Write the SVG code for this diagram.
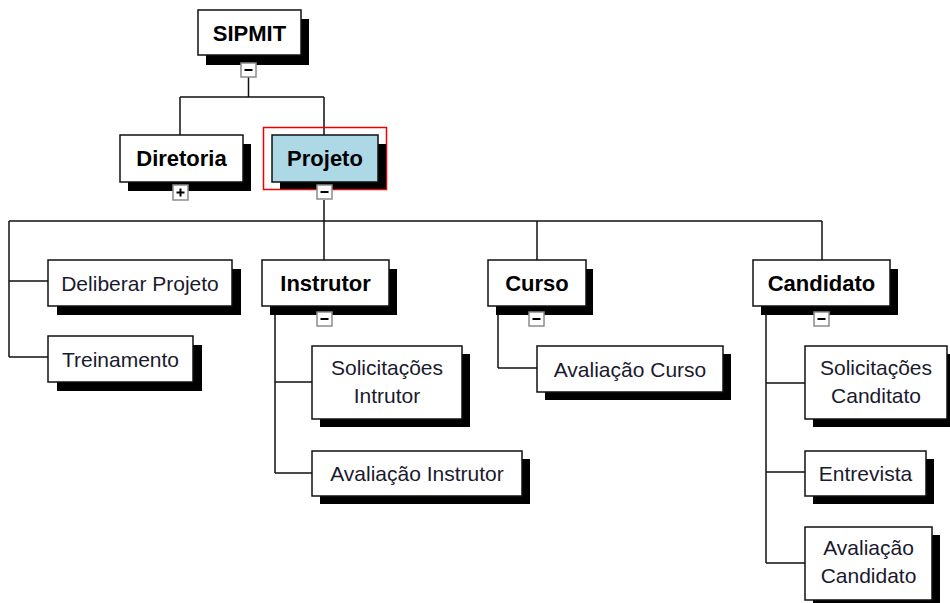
<svg xmlns="http://www.w3.org/2000/svg" width="950" height="603" viewBox="0 0 950 603">
<defs>
<style>
.box{fill:#fff;stroke:#111;stroke-width:1.5}
.sel{fill:#add8e6;stroke:#111;stroke-width:1.5}
.sh{fill:#000}
.t{font-family:"Liberation Sans",Arial,sans-serif;font-size:21px;fill:#1a1a2e;text-anchor:middle}
.b{font-family:"Liberation Sans",Arial,sans-serif;font-size:22px;font-weight:bold;fill:#000;text-anchor:middle}
.c{fill:none;stroke:#111;stroke-width:1.5}
.btn{fill:#fff;stroke:#8c8c8c;stroke-width:1.5}
.sign{stroke:#000;stroke-width:2}
</style>
</defs>
<rect width="950" height="603" fill="#fff"/>
<g id="connectors" class="c">
<path d="M248.5 77V97M180 97H324M180 97V135M324 97V135"/>
<path d="M324 200V221M9 221H822M9 221V357M324 221V260M537 221V260M822 221V260"/>
<path d="M9 281H48M9 357H48"/>
<path d="M275 306V473M275 382H312M275 473H312"/>
<path d="M498 306V368M498 368H537"/>
<path d="M766 306V563M766 383H805M766 472H805M766 563H805"/>
</g>
<g id="n-sipmit">
<rect class="sh" x="206" y="19" width="103" height="46"/>
<rect class="box" x="198" y="10" width="103" height="45"/>
<text class="b" x="249.5" y="41" font-size="20">SIPMIT</text>
<rect class="btn" x="241" y="63" width="15" height="14"/>
<line class="sign" x1="244.5" y1="70" x2="252.5" y2="70"/>
</g>
<g id="n-diretoria">
<rect class="sh" x="128" y="144" width="123" height="47"/>
<rect class="box" x="120" y="135" width="123" height="47"/>
<text class="b" x="181.5" y="166">Diretoria</text>
<rect class="btn" x="173" y="185" width="15" height="15"/>
<line class="sign" x1="176.5" y1="192.5" x2="184.5" y2="192.5"/>
<line class="sign" x1="180.5" y1="188.5" x2="180.5" y2="196.5"/>
</g>
<g id="n-projeto">
<rect x="263.5" y="127.5" width="123" height="62" fill="none" stroke="#e00" stroke-width="1.5"/>
<rect class="sh" x="280" y="144" width="106" height="45"/>
<rect class="sel" x="272" y="135" width="106" height="47"/>
<text class="b" x="325" y="166">Projeto</text>
<rect class="btn" x="317" y="185" width="15" height="14"/>
<line class="sign" x1="320.5" y1="192" x2="328.5" y2="192"/>
</g>
<g id="n-deliberar">
<rect class="sh" x="57" y="269" width="184" height="46"/>
<rect class="box" x="48" y="260" width="184" height="46"/>
<text class="t" x="140" y="290.5">Deliberar Projeto</text>
</g>
<g id="n-treinamento">
<rect class="sh" x="57" y="345" width="145" height="46"/>
<rect class="box" x="48" y="336" width="145" height="46"/>
<text class="t" x="120.5" y="366.5">Treinamento</text>
</g>
<g id="n-instrutor">
<rect class="sh" x="270" y="269" width="127" height="46"/>
<rect class="box" x="262" y="260" width="127" height="46"/>
<text class="b" x="325.5" y="291">Instrutor</text>
<rect class="btn" x="317" y="312" width="15" height="14"/>
<line class="sign" x1="320.5" y1="319" x2="328.5" y2="319"/>
</g>
<g id="n-sol-instrutor">
<rect class="sh" x="320" y="354" width="150" height="73"/>
<rect class="box" x="312" y="346" width="150" height="73"/>
<text class="t" x="387" y="375">Solicitações</text>
<text class="t" x="387" y="403">Intrutor</text>
</g>
<g id="n-aval-instrutor">
<rect class="sh" x="320" y="459" width="210" height="45"/>
<rect class="box" x="312" y="451" width="210" height="45"/>
<text class="t" x="417" y="481">Avaliação Instrutor</text>
</g>
<g id="n-curso">
<rect class="sh" x="496" y="269" width="97" height="46"/>
<rect class="box" x="488" y="260" width="98" height="46"/>
<text class="b" x="537" y="291">Curso</text>
<rect class="btn" x="529" y="312" width="15" height="14"/>
<line class="sign" x1="532.5" y1="319" x2="540.5" y2="319"/>
</g>
<g id="n-aval-curso">
<rect class="sh" x="545" y="354" width="186" height="46"/>
<rect class="box" x="537" y="346" width="186" height="46"/>
<text class="t" x="630" y="376.5">Avaliação Curso</text>
</g>
<g id="n-candidato">
<rect class="sh" x="761" y="269" width="137" height="46"/>
<rect class="box" x="753" y="260" width="137" height="46"/>
<text class="b" x="821.5" y="291">Candidato</text>
<rect class="btn" x="814" y="312" width="15" height="14"/>
<line class="sign" x1="817.5" y1="319" x2="825.5" y2="319"/>
</g>
<g id="n-sol-candidato">
<rect class="sh" x="813" y="354" width="142" height="73"/>
<rect class="box" x="805" y="346" width="142" height="73"/>
<text class="t" x="876" y="375">Solicitações</text>
<text class="t" x="876" y="403">Canditato</text>
</g>
<g id="n-entrevista">
<rect class="sh" x="813" y="459" width="121" height="45"/>
<rect class="box" x="805" y="451" width="121" height="45"/>
<text class="t" x="865.5" y="481">Entrevista</text>
</g>
<g id="n-aval-candidato">
<rect class="sh" x="813" y="535" width="127" height="73"/>
<rect class="box" x="805" y="527" width="127" height="73"/>
<text class="t" x="868.5" y="555">Avaliação</text>
<text class="t" x="868.5" y="583">Candidato</text>
</g>
</svg>
